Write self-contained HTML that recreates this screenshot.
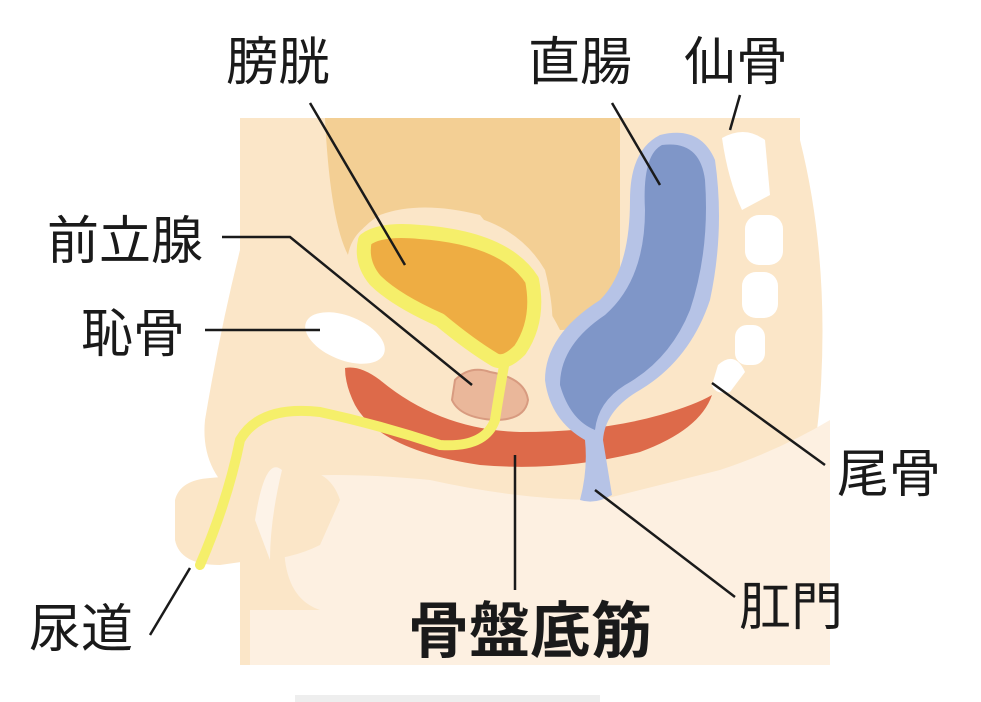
<!DOCTYPE html>
<html><head><meta charset="utf-8"><style>
html,body{margin:0;padding:0;background:#fff;}
svg{display:block}
text{font-family:"Liberation Sans","Noto Sans CJK JP",sans-serif;fill:#1a1a1a;}
</style></head><body>
<svg width="981" height="702" viewBox="0 0 981 702" xmlns="http://www.w3.org/2000/svg">
<rect width="981" height="702" fill="#fff"/>
<path d="M240,118 L800,118 L800,140 Q830,260 820,400 Q810,520 780,560 L780,665 L240,665 L240,500 Q200,470 205,420 Q220,330 240,250 Z" fill="#fbe6c8"/>
<path d="M250,480 Q330,470 430,480 Q520,500 600,500 L720,470 Q780,450 830,420 L830,665 L250,665 Z" fill="#fdf0e1"/>
<path d="M175,500 Q180,480 210,478 L300,470 Q330,470 340,500 L320,545 Q290,560 255,560 L220,565 Q180,565 175,540 Z" fill="#fbe6c8"/>
<path d="M240,480 Q275,450 280,490 L285,560 Q290,600 320,610 L250,610 Q235,560 240,480 Z" fill="#fbe6c8"/>
<path d="M255,520 Q265,455 282,470 Q270,520 270,560 Z" fill="#fdf3e8"/>
<path d="M325,118 L620,118 L620,300 Q600,330 560,330 Q540,290 480,215 Q420,200 380,215 Q355,230 348,255 Q330,220 325,118 Z" fill="#f3cf94"/>
<path d="M348,255 Q355,215 420,210 Q510,210 545,270 Q560,330 545,360 L520,400 L430,380 Z" fill="#fbe6c8"/>
<path d="M700,125 L790,118 L790,400 L710,400 Z" fill="#fbe6c8"/>
<g fill="#fff">
<path d="M722,138 Q745,125 765,140 L770,195 L742,210 Q728,180 722,138Z"/>
<rect x="745" y="215" width="38" height="50" rx="14"/>
<rect x="742" y="272" width="36" height="46" rx="14"/>
<rect x="735" y="325" width="30" height="40" rx="12"/>
<path d="M718,365 Q735,350 745,372 L730,392 Q715,395 712,385Z"/>
</g>
<path d="M345,368 Q360,365 380,380 Q440,430 520,432 Q600,432 660,415 Q695,405 712,395 Q700,430 640,452 Q560,472 480,465 Q380,450 355,405 Q345,385 345,368Z" fill="#dd6a4a"/>
<ellipse cx="345" cy="338" rx="42" ry="22" transform="rotate(22 345 338)" fill="#fff"/>
<path d="M455,380 Q470,365 490,372 Q525,378 528,400 Q525,420 495,420 Q460,418 452,400Z" fill="#eab79a" stroke="#d89b80" stroke-width="2"/>
<path d="M365,240 Q380,228 420,232 Q505,238 532,280 Q540,320 520,350 Q505,365 495,360 Q470,345 440,320 Q395,300 375,280 Q360,262 365,240Z" fill="#eead43" stroke="#f5ef6a" stroke-width="14" stroke-linejoin="round"/>
<path d="M505,360 Q498,400 495,420 Q485,448 440,445 Q380,425 320,412 Q260,405 240,440 Q228,500 200,565" fill="none" stroke="#f5ef6a" stroke-width="10" stroke-linecap="round"/>
<path d="M660,135 Q700,125 715,160 Q725,230 710,300 Q690,360 640,390 Q605,410 603,440 L612,495 Q595,505 580,500 Q588,470 585,440 Q550,420 545,380 Q545,335 600,300 Q630,270 630,200 Q630,150 660,135Z" fill="#b6c3e6"/>
<path d="M662,145 Q700,140 705,180 Q710,250 690,310 Q670,360 625,385 Q598,402 595,430 Q570,420 560,385 Q560,345 605,315 Q645,280 645,210 Q642,155 662,145Z" fill="#7f96c8"/>
<g stroke="#1a1a1a" stroke-width="2.5" fill="none">
<line x1="310" y1="103" x2="405" y2="265"/>
<line x1="612" y1="103" x2="660" y2="185"/>
<line x1="740" y1="95" x2="730" y2="130"/>
<polyline points="222,237 290,237 472,385"/>
<line x1="205" y1="330" x2="320" y2="330"/>
<line x1="712" y1="383" x2="825" y2="465"/>
<line x1="515" y1="455" x2="515" y2="590"/>
<line x1="595" y1="490" x2="735" y2="597"/>
<line x1="190" y1="568" x2="150" y2="635"/>
</g>
<g font-size="52">
<text x="226" y="80">膀胱</text>
<text x="528" y="80">直腸</text>
<text x="684" y="80">仙骨</text>
<text x="47" y="259">前立腺</text>
<text x="81" y="352">恥骨</text>
<text x="837" y="492">尾骨</text>
<text x="29" y="647">尿道</text>
<text x="739" y="625">肛門</text>
</g>
<text x="408" y="652" font-size="61" font-weight="bold">骨盤底筋</text>
<rect x="295" y="695" width="305" height="7" fill="#eeeeee"/>
</svg>
</body></html>
